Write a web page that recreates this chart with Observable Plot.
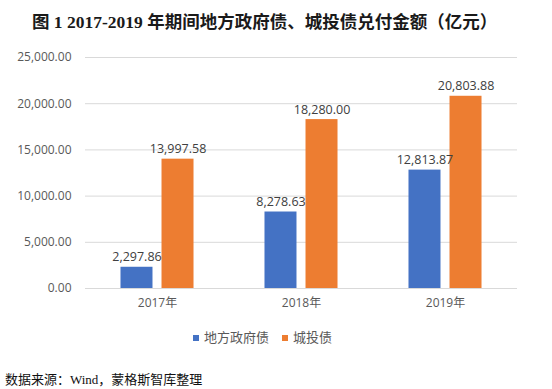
<!DOCTYPE html>
<html><head><meta charset="utf-8">
<script src="https://cdn.jsdelivr.net/npm/d3@7"></script>
<script src="https://cdn.jsdelivr.net/npm/@observablehq/plot@0.6"></script>
<style>
body{margin:0;background:#fff;width:552px;height:389px;position:relative;overflow:hidden}
#title{position:absolute;left:32px;top:8px;font-family:"Liberation Serif","Noto Sans CJK SC",serif;font-weight:bold;font-size:17.5px;color:#1a1a1a;white-space:nowrap}
#chart{position:absolute;left:0;top:45px}
#legend{position:absolute;left:193px;top:327px;font-family:"Open Sans","Noto Sans CJK SC",sans-serif;font-size:13px;color:#595959;white-space:nowrap}
#legend span.sw{display:inline-block;width:6px;height:6px;margin-right:5px;vertical-align:middle;position:relative;top:-1px}
#legend span.it{margin-right:13px}
#source{position:absolute;left:5px;top:369px;font-family:"Liberation Serif","Noto Sans CJK SC",serif;font-size:13px;color:#111;white-space:nowrap}
</style></head>
<body>
<div id="title"></div>
<div id="chart"></div>
<div id="legend"></div>
<div id="source"></div>
<script>
const titleText = "图 1 2017-2019 年期间地方政府债、城投债兑付金额（亿元）";
const sourceText = "数据来源：Wind，蒙格斯智库整理";
const years = ["2017", "2018", "2019"];
const seriesNames = ["地方政府债", "城投债"];
const localGov = [2297.86, 8278.63, 12813.87];
const chengtou = [13997.58, 18280.00, 20803.88];
const yTicks = [0, 5000, 10000, 15000, 20000, 25000];
const colors = ["#4472C4", "#ED7D31"];

document.getElementById("title").textContent = titleText;
document.getElementById("source").textContent = sourceText;

const data = [];
years.forEach((y, i) => {
  data.push({year: y, series: seriesNames[0], value: localGov[i]});
  data.push({year: y, series: seriesNames[1], value: chengtou[i]});
});
const fmt = d3.format(",.2f");

const chart = Plot.plot({
  width: 552,
  height: 273,
  marginLeft: 84,
  marginRight: 35,
  marginTop: 12,
  marginBottom: 30,
  style: {fontFamily: "'Open Sans','Noto Sans CJK SC',sans-serif", fontSize: "12px", color: "#595959", background: "#fff"},
  fx: {domain: years, padding: 0, axis: "bottom", label: null, tickSize: 0, tickPadding: 10, tickFormat: d => d + "年"},
  x: {domain: seriesNames, paddingInner: 0.22, paddingOuter: 0.865, round: false, axis: null},
  y: {domain: [0, 25000], ticks: yTicks, tickFormat: fmt, tickSize: 0, tickPadding: 14, label: null},
  color: {domain: seriesNames, range: colors},
  marks: [
    Plot.ruleY(yTicks, {stroke: "#d9d9d9", strokeWidth: 1}),
    Plot.barY(data, {fx: "year", x: "series", y: "value", fill: "series"}),
    Plot.text(data, {fx: "year", x: "series", y: "value", text: d => fmt(d.value), dy: -6, lineAnchor: "bottom", fill: "#404040", fontSize: 12.5})
  ]
});
chart.querySelectorAll("text").forEach(t => { if (t.textContent.includes("⚠")) t.remove(); });
document.getElementById("chart").appendChild(chart);

const lg = document.getElementById("legend");
seriesNames.forEach((s, i) => {
  const it = document.createElement("span");
  it.className = "it";
  const sw = document.createElement("span");
  sw.className = "sw";
  sw.style.background = colors[i];
  it.appendChild(sw);
  it.appendChild(document.createTextNode(s));
  lg.appendChild(it);
});
</script>
</body></html>
